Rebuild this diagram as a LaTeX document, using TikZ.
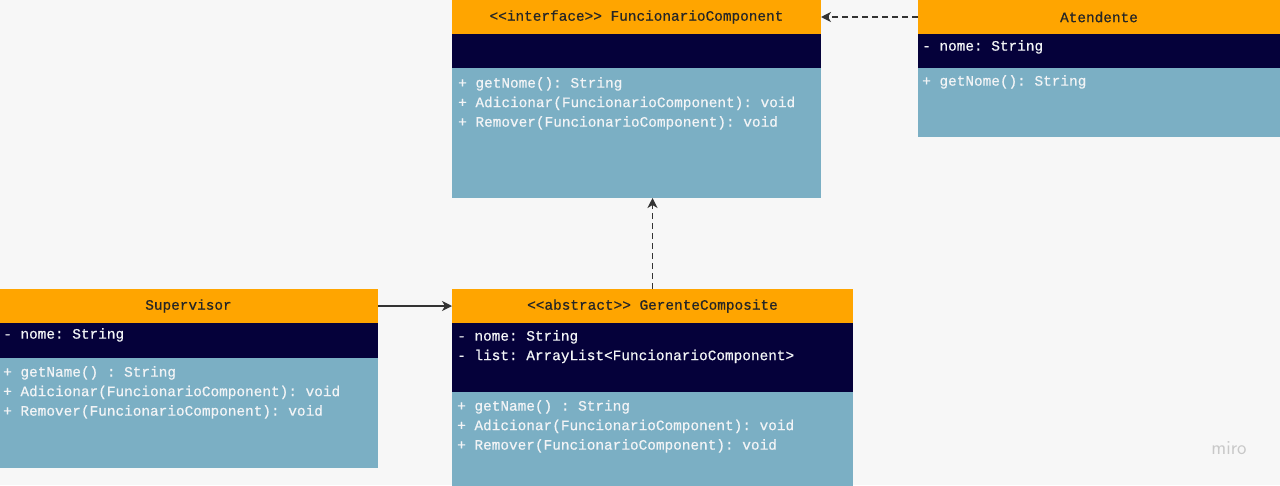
\documentclass[tikz,border=0pt]{standalone}
\usepackage{fontspec}
\setmainfont{Liberation Sans}
\setmonofont{Liberation Mono}[FakeBold=0.6]
\usetikzlibrary{arrows.meta}
\definecolor{bgpaper}{HTML}{F7F7F7}
\definecolor{umlhead}{HTML}{FFA500}
\definecolor{umldark}{HTML}{05013A}
\definecolor{umlbody}{HTML}{7BAFC4}
\definecolor{umlline}{HTML}{333333}
\definecolor{umltext}{HTML}{F2F4F6}
\definecolor{mirogray}{HTML}{C8C8C8}
\newcommand\clsfont{\fontsize{14.4}{19.5}\selectfont\ttfamily}

\tikzset{
  box/.style={anchor=north west, inner sep=0pt, outer sep=0pt},
  headbox/.style={box, fill=umlhead, minimum height=34pt, text=black!85, font=\clsfont},
  darkbox/.style={box, fill=umldark},
  bodybox/.style={box, fill=umlbody},
  membertxt/.style={anchor=north west, inner sep=0pt, align=left, text=umltext, font=\clsfont},
  dep/.style={umlline, line width=1.3pt, dash pattern=on 6pt off 4pt, -{Stealth[length=10pt,width=10pt,inset=3pt]}},
  assoc/.style={umlline, line width=1.3pt, -{Stealth[length=10pt,width=10pt,inset=3pt]}}
}

\begin{document}
\begin{tikzpicture}[x=1pt,y=-1pt]
  \fill[bgpaper] (0,0) rectangle (1280,485);
  \useasboundingbox (0,0) rectangle (1280,485);
  \clip (0,0) rectangle (1280,485);

  % interface
  \node[headbox, minimum width=369pt] (fcHead) at (452,0) {<<interface>> FuncionarioComponent};
  \node[darkbox, minimum width=369pt, minimum height=34pt] (fcAttr) at (fcHead.south west) {};
  \node[bodybox, minimum width=369pt, minimum height=130pt] (fcOps) at (fcAttr.south west) {};
  \node[membertxt] (fcOpsTxt) at ([shift={(6,9)}]fcOps.north west)
    {+ getNome(): String\\+ Adicionar(FuncionarioComponent): void\\+ Remover(FuncionarioComponent): void};

  % Atendente
  \node[headbox, minimum width=362pt] (atHead) at (918,0) {Atendente};
  \node[darkbox, minimum width=362pt, minimum height=34pt] (atAttr) at (atHead.south west) {};
  \node[bodybox, minimum width=362pt, minimum height=69pt] (atOps) at (atAttr.south west) {};
  \node[membertxt] (atAttrTxt) at ([shift={(4,6)}]atAttr.north west) {- nome: String};
  \node[membertxt] (atOpsTxt) at ([shift={(4,7)}]atOps.north west) {+ getNome(): String};

  % Supervisor
  \node[headbox, minimum width=379pt] (svHead) at (-1,289) {Supervisor};
  \node[darkbox, minimum width=379pt, minimum height=35pt] (svAttr) at (svHead.south west) {};
  \node[bodybox, minimum width=379pt, minimum height=110pt] (svOps) at (svAttr.south west) {};
  \node[membertxt] (svAttrTxt) at ([shift={(4,5)}]svAttr.north west) {- nome: String};
  \node[membertxt] (svOpsTxt) at ([shift={(4,8)}]svOps.north west)
    {+ getName() : String\\+ Adicionar(FuncionarioComponent): void\\+ Remover(FuncionarioComponent): void};

  % abstract
  \node[headbox, minimum width=401pt] (gcHead) at (452,289) {<<abstract>> GerenteComposite};
  \node[darkbox, minimum width=401pt, minimum height=69pt] (gcAttr) at (gcHead.south west) {};
  \node[bodybox, minimum width=401pt, minimum height=100pt] (gcOps) at (gcAttr.south west) {};
  \node[membertxt] (gcAttrTxt) at ([shift={(5,7)}]gcAttr.north west)
    {- nome: String\\- list: ArrayList<FuncionarioComponent>};
  \node[membertxt] (gcOpsTxt) at ([shift={(5,8)}]gcOps.north west)
    {+ getName() : String\\+ Adicionar(FuncionarioComponent): void\\+ Remover(FuncionarioComponent): void};

  \draw[dep] (atHead.west) -- (fcHead.east);
  \draw[dep] (gcHead.north) -- (gcHead.north |- fcOps.south);
  \draw[assoc] (svHead.east) -- (gcHead.west);

  \node[text=mirogray, font=\sffamily\fontsize{20}{20}\selectfont] (miroMark) at (1229,448) {miro};
\end{tikzpicture}
\end{document}
